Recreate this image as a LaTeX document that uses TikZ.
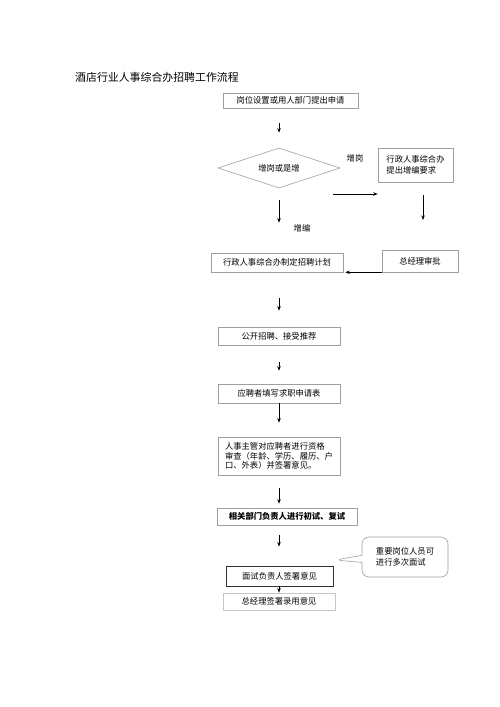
\documentclass[tikz,border=0pt]{standalone}
\usepackage{fontspec}
\newfontfamily\cjk{Noto Sans CJK SC}
\usetikzlibrary{arrows.meta,shapes.geometric,shapes.callouts}
\tikzset {>=Stealth}
\tikzset{
  box/.style={draw=gray!75,line width=.6pt,inner sep=0pt,
    font=\cjk\fontsize{8.3}{9.5}\selectfont},
  note/.style={font=\cjk\fontsize{8.3}{9.5}\selectfont},
  arr/.style={->,line width=.75pt,
    >={Stealth[length=4.5pt,width=3.5pt]}}
}

\begin{document}
\begin{tikzpicture}[x=1pt,y=-1pt]
\useasboundingbox (0,0) rectangle (500,707);
\node[anchor=west,inner sep=0pt,font=\cjk\fontsize{10.9}{12}\selectfont] (title) at (75,77)
  {酒店行业人事综合办招聘工作流程};
% upper part
\node[box,minimum width=135,minimum height=15] (apply) at (290.5,100.5)
  {岗位设置或用人部门提出申请};
\node[box,diamond,aspect=3,minimum width=122,minimum height=40] (kind)
  at (279,168) {增岗或是增};
\node[box,minimum width=75,minimum height=34,align=left] (req)
  at (415.5,165) {行政人事综合办\\[1.5pt]提出增编要求};
\node[box,minimum width=76,minimum height=22] (boss) at (420,261)
  {总经理审批};
\node[box,minimum width=132,minimum height=19] (plan) at (277,262.5)
  {行政人事综合办制定招聘计划};
\node[note] (lblgang) at (355,158) {增岗};
\node[note] (lblbian) at (302,228) {增编};
\coordinate (h1) at (333,194);
\coordinate (v1) at (423,195);
\coordinate (v2) at (423,220);
\draw[arr,shorten <=15,shorten >=15] (apply.south -| kind) -- (kind.north);
\draw[arr,shorten <=12,shorten >=30] (kind.south) -- (kind.south |- plan.north);
\draw[arr] (h1) -- (h1 -| req.west);
\draw[arr] (v1) -- (v2);
\draw[arr,shorten >=2] (boss.south west) -- (plan.south east);
% lower chain
\node[box,minimum width=122,minimum height=18] (open) at (279,336)
  {公开招聘、接受推荐};
\node[box,minimum width=122,minimum height=19] (form) at (279,393.5)
  {应聘者填写求职申请表};
\node[box,minimum width=122,minimum height=38,align=left] (check)
  at (279,456) {人事主管对应聘者进行资格\\审查（年龄、学历、履历、户\\口、外表）并签署意见。};
\node[box,minimum width=140,minimum height=17,font=\cjk\bfseries\fontsize{8.3}{9.5}\selectfont]
  (test) at (287,516.5) {相关部门负责人进行初试、复试};
\node[box,draw=gray!40!black,line width=.9pt,minimum width=107,minimum height=20]
  (sign) at (279.5,576) {面试负责人签署意见};
\node[box,draw=gray!45,minimum width=112,minimum height=17] (final)
  at (279,601.5) {总经理签署录用意见};
\node[box,rectangle callout,rounded corners=7pt,align=left,
  minimum width=86,minimum height=40,
  callout absolute pointer={(335,560)}] (tip) at (405,557)
  {重要岗位人员可\\[2pt]进行多次面试};
\draw[arr,shorten <=26,shorten >=16] (plan.south -| open) -- (open.north);
\draw[arr,shorten <=17,shorten >=13] (open.south) -- (form.north);
\draw[arr,shorten >=14] (form.south) -- (check.north);
\draw[arr,shorten <=13,shorten >=4] (check.south) -- (check.south |- test.north);
\draw[arr,shorten <=10,shorten >=19] (check.south |- test.south) -- (sign.north -| check);
\draw[arr] (sign.south -| check) -- (final.north);
\end{tikzpicture}
\end{document}
